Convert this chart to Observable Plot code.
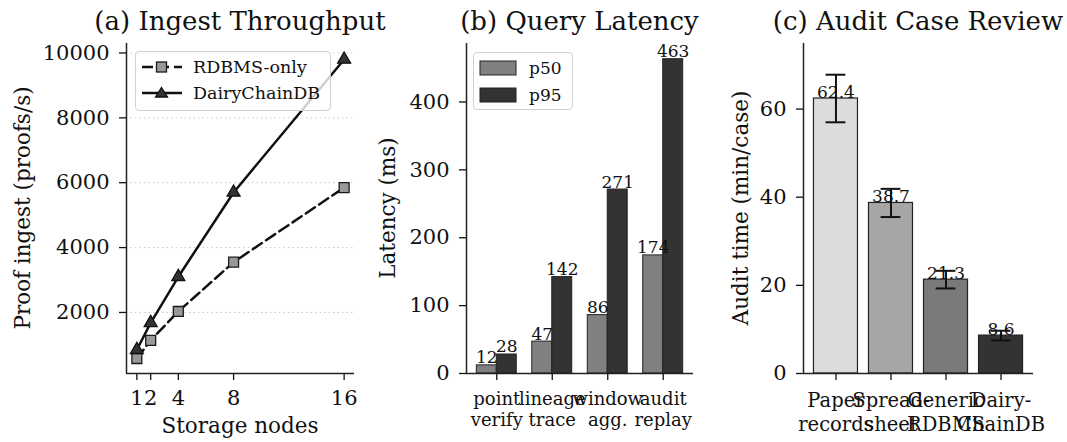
<!DOCTYPE html>
<html><head><meta charset="utf-8">
<script src="https://cdn.jsdelivr.net/npm/d3@7"></script>
<script src="https://cdn.jsdelivr.net/npm/@observablehq/plot@0.6"></script>
<style>
body{margin:0;background:#fff;}
#wrap{position:relative;width:1067px;height:442px;font-family:"DejaVu Serif",serif;color:#111;overflow:hidden;background:#fff}
#wrap svg{position:absolute;top:0;}
.title{position:absolute;top:8px;font-size:26px;line-height:26px;white-space:nowrap;transform:translateX(-50%)}
.ylab{position:absolute;font-size:21.5px;line-height:22px;white-space:nowrap;transform:translate(-50%,-50%) rotate(-90deg)}
.xlab{position:absolute;font-size:21.5px;line-height:22px;white-space:nowrap;transform:translateX(-50%)}
.legend{position:absolute;border:1px solid #d0d0d0;border-radius:4px;background:rgba(255,255,255,0.8);box-sizing:border-box}
.lrow{position:absolute;left:0;display:flex;align-items:center;white-space:nowrap}
</style></head><body><div id="wrap"></div>
<script>
// ---- data ----
const nodes = [1, 2, 4, 8, 16];
const rdbmsOnly = [580, 1140, 2030, 3550, 5850];
const dairyChainDB = [850, 1680, 3100, 5700, 9800];
const ingestTicks = [2000, 4000, 6000, 8000, 10000];

const queryTypes = ["point\nverify", "lineage\ntrace", "window\nagg.", "audit\nreplay"];
const p50 = [12, 47, 86, 174];
const p95 = [28, 142, 271, 463];
const latencyTicks = [0, 100, 200, 300, 400];

const systems = ["Paper\nrecords", "Spread-\nsheet", "Generic\nRDBMS", "Dairy-\nChainDB"];
const auditMean = [62.4, 38.7, 21.3, 8.6];
const auditErr = [5.4, 3.2, 2.0, 1.1];
const auditTicks = [0, 20, 40, 60];

// ---- styles ----
const ink = "#111";
const tickFont = 21;
const sysColors = ["#dcdcdc", "#a6a6a6", "#7a7a7a", "#333333"];
const baseStyle = {fontFamily: "DejaVu Serif", fontSize: "21px", color: ink, background: "transparent", overflow: "visible"};
const wrap = document.getElementById("wrap");

function place(svg, left) { svg.style.left = left + "px"; wrap.appendChild(svg); }
function addDiv(cls, text, css) {
  const d = document.createElement("div"); d.className = cls; d.textContent = text;
  Object.assign(d.style, css); wrap.appendChild(d); return d;
}

// ---- (a) Ingest throughput ----
const ingestRows = nodes.flatMap((n, i) => [
  {nodes: n, value: rdbmsOnly[i], series: "RDBMS-only"},
  {nodes: n, value: dairyChainDB[i], series: "DairyChainDB"}
]);
const yA = [118, 10292], xA = [0.25, 16.75];
const A = Plot.plot({
  width: 362, height: 442, marginLeft: 126, marginRight: 8, marginTop: 43, marginBottom: 69,
  style: baseStyle,
  x: {type: "linear", domain: xA},
  y: {domain: yA},
  marks: [
    Plot.ruleY(ingestTicks, {stroke: "#c8c8c8", strokeWidth: 1, strokeDasharray: "1.5,3"}),
    Plot.axisX(nodes, {tickSize: 7, tickPadding: 10, tickFormat: d3.format("d"), label: null, strokeWidth: 1.3, fontSize: tickFont}),
    Plot.axisY(ingestTicks, {tickSize: 7, tickPadding: 10, tickFormat: d3.format("d"), label: null, strokeWidth: 1.3, fontSize: tickFont}),
    Plot.line(ingestRows.filter(d => d.series === "RDBMS-only"), {x: "nodes", y: "value", stroke: ink, strokeWidth: 2.5, strokeDasharray: "11,5"}),
    Plot.line(ingestRows.filter(d => d.series === "DairyChainDB"), {x: "nodes", y: "value", stroke: ink, strokeWidth: 2.5}),
    Plot.dot(ingestRows.filter(d => d.series === "RDBMS-only"), {x: "nodes", y: "value", symbol: "square", r: 5.6, fill: "#999", stroke: "#1a1a1a", strokeWidth: 1.3}),
    Plot.dot(ingestRows.filter(d => d.series === "DairyChainDB"), {x: "nodes", y: "value", symbol: "triangle", r: 4.8, fill: "#333", stroke: "#111", strokeWidth: 1.3}),
    Plot.ruleX([xA[0]], {stroke: "#222", strokeWidth: 1.5}),
    Plot.ruleY([yA[0]], {stroke: "#222", strokeWidth: 1.5})
  ]
});
place(A, 0);

// ---- (b) Query latency ----
const w = 0.36;
const latRows = queryTypes.flatMap((q, i) => [
  {i, q, series: "p50", value: p50[i]},
  {i, q, series: "p95", value: p95[i]}
]);
const xB = [-0.546, 3.546], yB = [0, 486.15];
const B = Plot.plot({
  width: 340, height: 442, marginLeft: 106, marginRight: 7, marginTop: 43, marginBottom: 69,
  style: baseStyle,
  x: {type: "linear", domain: xB},
  y: {domain: yB},
  marks: [
    Plot.rectY(latRows.filter(d => d.series === "p50"), {x1: d => d.i - w, x2: d => d.i, y1: d => 0, y2: "value", fill: "#808080", stroke: "#222", strokeWidth: 1, inset: 0}),
    Plot.rectY(latRows.filter(d => d.series === "p95"), {x1: d => d.i, x2: d => d.i + w, y1: d => 0, y2: "value", fill: "#333333", stroke: "#222", strokeWidth: 1, inset: 0}),
    Plot.text(latRows, {x: d => d.i + (d.series === "p50" ? -w / 2 : w / 2), y: "value", text: d => String(d.value), lineAnchor: "bottom", dy: -2, fontSize: 17, fill: ink}),
    Plot.axisX([0, 1, 2, 3], {tickSize: 7, tickPadding: 10, tickFormat: i => queryTypes[i], label: null, fontSize: 18, lineHeight: 1.15, strokeWidth: 1.3}),
    Plot.axisY(latencyTicks, {tickSize: 7, tickPadding: 10, tickFormat: d3.format("d"), label: null, strokeWidth: 1.3, fontSize: tickFont}),
    Plot.ruleX([xB[0]], {stroke: "#222", strokeWidth: 1.5}),
    Plot.ruleY([yB[0]], {stroke: "#222", strokeWidth: 1.5})
  ]
});
place(B, 360);

// ---- (c) Audit case review ----
const auditRows = systems.map((s, i) => ({i, s, mean: auditMean[i], err: auditErr[i]}));
const xC = [-0.59, 3.59], yC = [0, 74.88], bw = 0.4, cap = 0.18;
const C = Plot.plot({
  width: 367, height: 442, marginLeft: 103, marginRight: 34, marginTop: 43, marginBottom: 69,
  style: baseStyle,
  x: {type: "linear", domain: xC},
  y: {domain: yC},
  color: {domain: systems, range: sysColors},
  marks: [
    Plot.rectY(auditRows, {x1: d => d.i - bw, x2: d => d.i + bw, y1: d => 0, y2: "mean", fill: "s", stroke: "#222", strokeWidth: 1.2, inset: 0}),
    Plot.text(auditRows, {x: "i", y: "mean", text: d => d.mean.toFixed(1), lineAnchor: "bottom", dy: -1, fontSize: 17, fill: ink}),
    Plot.ruleX(auditRows, {x: "i", y1: d => d.mean - d.err, y2: d => d.mean + d.err, stroke: ink, strokeWidth: 2}),
    Plot.ruleY(auditRows, {y: d => d.mean + d.err, x1: d => d.i - cap, x2: d => d.i + cap, stroke: ink, strokeWidth: 2}),
    Plot.ruleY(auditRows, {y: d => d.mean - d.err, x1: d => d.i - cap, x2: d => d.i + cap, stroke: ink, strokeWidth: 2}),
    Plot.axisX([0, 1, 2, 3], {tickSize: 7, tickPadding: 10, tickFormat: i => systems[i], label: null, fontSize: 19.5, lineHeight: 1.2, strokeWidth: 1.3}),
    Plot.axisY(auditTicks, {tickSize: 7, tickPadding: 10, tickFormat: d3.format("d"), label: null, strokeWidth: 1.3, fontSize: tickFont}),
    Plot.ruleX([xC[0]], {stroke: "#222", strokeWidth: 1.5}),
    Plot.ruleY([yC[0]], {stroke: "#222", strokeWidth: 1.5})
  ]
});
place(C, 700);

// ---- titles and axis labels ----
addDiv("title", "(a) Ingest Throughput", {left: "240px"});
addDiv("title", "(b) Query Latency", {left: "579.5px"});
addDiv("title", "(c) Audit Case Review", {left: "918px"});
addDiv("ylab", "Proof ingest (proofs/s)", {left: "23px", top: "208px"});
addDiv("ylab", "Latency (ms)", {left: "388px", top: "208px"});
addDiv("ylab", "Audit time (min/case)", {left: "741px", top: "208px"});
addDiv("xlab", "Storage nodes", {left: "240px", top: "415px"});

// ---- legends ----
function legendBox(left, top, width, height) {
  const d = document.createElement("div"); d.className = "legend";
  Object.assign(d.style, {left: left + "px", top: top + "px", width: width + "px", height: height + "px"});
  wrap.appendChild(d); return d;
}
function row(box, top, swatchSvg, label, fontSize, gap) {
  const r = document.createElement("div"); r.className = "lrow";
  r.style.top = top + "px"; r.style.left = "5px"; r.style.fontSize = fontSize + "px";
  r.innerHTML = swatchSvg + `<span style="margin-left:${gap}px">${label}</span>`;
  box.appendChild(r);
}
const la = legendBox(135, 51, 196, 60);
row(la, 3, `<svg width="42" height="24" style="position:static"><line x1="1" y1="12" x2="41" y2="12" stroke="${ink}" stroke-width="2.5" stroke-dasharray="11,5"/><rect x="15.5" y="7" width="10" height="10" fill="#999" stroke="#1a1a1a" stroke-width="1.3"/></svg>`, "RDBMS-only", 17.5, 10);
row(la, 29, `<svg width="42" height="24" style="position:static"><line x1="1" y1="12" x2="41" y2="12" stroke="${ink}" stroke-width="2.5"/><path d="M20.5,6.5 L26.5,16 L14.5,16 Z" fill="#333" stroke="#111" stroke-width="1.3"/></svg>`, "DairyChainDB", 17.5, 10);
const lb = legendBox(473, 52, 100, 58);
row(lb, 3, `<svg width="38" height="24" style="position:static"><rect x="1" y="5" width="36" height="14" fill="#808080" stroke="#222" stroke-width="1"/></svg>`, "p50", 17, 12);
row(lb, 30, `<svg width="38" height="24" style="position:static"><rect x="1" y="5" width="36" height="14" fill="#333" stroke="#222" stroke-width="1"/></svg>`, "p95", 17, 12);
</script></body></html>
